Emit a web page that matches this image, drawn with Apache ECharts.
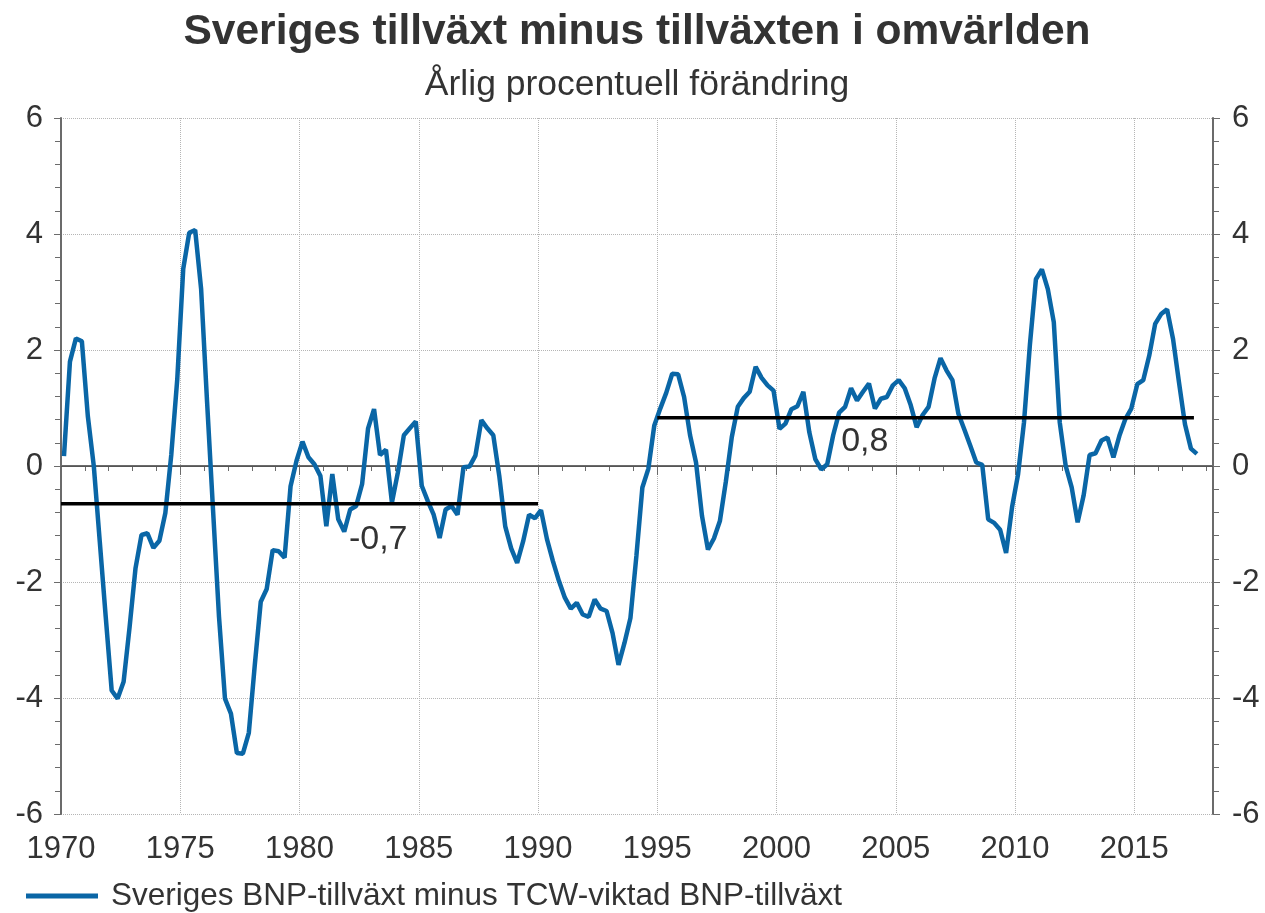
<!DOCTYPE html>
<html>
<head>
<meta charset="utf-8">
<title>Sveriges tillväxt minus tillväxten i omvärlden</title>
<script src="https://cdn.jsdelivr.net/npm/echarts@6/dist/echarts.min.js"></script>
<style>
html,body{margin:0;padding:0;background:#fff;}
#chart{width:1265px;height:913px;}
</style>
</head>
<body>
<div id="chart"></div>
<script>
// Kvartalsdata, årlig procentuell förändring: Sveriges BNP-tillväxt minus TCW-viktad BNP-tillväxt
var firstYear = 1970;
var d1970 = [0.17, 1.80, 2.20, 2.15, 0.86, 0.0, -1.3, -2.6, -3.87, -4.01,
             -3.72, -2.78, -1.76, -1.19, -1.16, -1.41, -1.29, -0.81, 0.2, 1.5,
             3.4, 4.02, 4.07, 3.05, 1.1, -0.76, -2.6, -4.01, -4.27, -4.95,
             -4.96, -4.6, -3.43, -2.34, -2.12, -1.45, -1.47, -1.58, -0.35, 0.09];
var d1980 = [0.42, 0.15, 0.03, -0.17, -1.04, -0.14, -0.92, -1.13, -0.75, -0.69,
             -0.31, 0.65, 0.98, 0.19, 0.28, -0.63, -0.11, 0.53, 0.65, 0.77,
             -0.34, -0.6, -0.84, -1.24, -0.75, -0.69, -0.84, -0.02, -0.01, 0.18,
             0.79, 0.65, 0.53, -0.17, -1.04, -1.42, -1.67, -1.3, -0.84, -0.9];
var d1990 = [-0.76, -1.26, -1.64, -1.98, -2.27, -2.46, -2.36, -2.56, -2.6, -2.3,
             -2.46, -2.5, -2.88, -3.43, -3.05, -2.62, -1.55, -0.37, -0.05, 0.7,
             0.99, 1.26, 1.59, 1.58, 1.19, 0.53, 0.06, -0.86, -1.44, -1.25,
             -0.95, -0.27, 0.5, 1.02, 1.17, 1.28, 1.71, 1.52, 1.39, 1.30];
var d2000 = [0.64, 0.73, 0.98, 1.03, 1.28, 0.58, 0.12, -0.06, 0.03, 0.53,
             0.92, 1.02, 1.34, 1.13, 1.28, 1.42, 0.99, 1.16, 1.19, 1.39,
             1.48, 1.34, 1.05, 0.67, 0.88, 1.02, 1.51, 1.86, 1.65, 1.48,
             0.9, 0.63, 0.35, 0.06, 0.02, -0.92, -0.98, -1.1, -1.5, -0.71];
var d2010 = [-0.15, 0.75, 2.10, 3.22, 3.39, 3.05, 2.48, 0.75, 0.0, -0.37,
             -0.97, -0.51, 0.19, 0.22, 0.44, 0.49, 0.15, 0.52, 0.81, 0.99,
             1.41, 1.48, 1.9, 2.45, 2.62, 2.70, 2.19, 1.44, 0.72, 0.30,
             0.21];

// genomsnitt per period
var meanFrom = [1970, 1995];
var meanTo = [1990, 2017.5];
var meanValue = [-0.65, 0.83];
var meanLabel = ['-0,7', '0,8'];
var meanLabelAt = [[1983.3, -1.27], [2003.7, 0.42]];

var seriesName = 'Sveriges BNP-tillväxt minus TCW-viktad BNP-tillväxt';
var values = d1970.concat(d1980, d1990, d2000, d2010);
var points = values.map(function (v, i) { return [firstYear + (i + 0.5) / 4, v]; });

var font = '"Liberation Sans", Arial, sans-serif';
var txt = '#333333';
var axisCol = '#6b6b6b';
var gridCol = '#b5b5b5';
var xMax = 2018.3;

var series = [{
    name: seriesName,
    type: 'line',
    data: points,
    symbol: 'none',
    z: 2,
    lineStyle: { color: '#0a66a6', width: 4.5 },
    itemStyle: { color: '#0a66a6' },
    markLine: {
        silent: true, symbol: 'none', z: 1,
        label: { show: false },
        lineStyle: { color: '#555', width: 1, type: 'solid' },
        data: [{ yAxis: 0 }]
    }
}];
for (var m = 0; m < meanValue.length; m++) {
    series.push({
        name: 'mean' + m,
        type: 'line',
        data: [[meanFrom[m], meanValue[m]], [meanTo[m], meanValue[m]]],
        symbol: 'none',
        silent: true,
        z: 3,
        lineStyle: { color: '#000', width: 3.5 },
        markPoint: {
            symbol: 'circle', symbolSize: 0, silent: true,
            label: { show: true, position: 'inside', fontSize: 34, color: txt, fontFamily: font, formatter: meanLabel[m] },
            data: [{ coord: meanLabelAt[m] }]
        }
    });
}

var chart = echarts.init(document.getElementById('chart'));
chart.setOption({
    backgroundColor: '#fff',
    animation: false,
    textStyle: { fontFamily: font },
    title: [{
        text: 'Sveriges tillväxt minus tillväxten i omvärlden',
        left: 632, textAlign: 'center', top: 6,
        textStyle: { fontSize: 42.5, fontWeight: 'bold', color: txt, fontFamily: font }
    }, {
        text: 'Årlig procentuell förändring',
        left: 632, textAlign: 'center', top: 62,
        textStyle: { fontSize: 35.5, fontWeight: 'normal', color: txt, fontFamily: font }
    }],
    grid: { left: 61, right: 52, top: 118, bottom: 99 },
    legend: {
        data: [seriesName],
        left: 21, top: 875,
        icon: 'rect', itemWidth: 72, itemHeight: 5,
        textStyle: { fontSize: 31.5, color: txt, fontFamily: font, padding: [0, 0, 0, 8] }
    },
    xAxis: [{
        type: 'value', min: 1970, max: xMax, interval: 1,
        axisLine: { lineStyle: { color: axisCol, width: 2 } },
        axisTick: { length: 5, lineStyle: { color: axisCol } },
        axisLabel: {
            fontSize: 31, color: txt, margin: 20,
            formatter: function (v) { return v % 5 === 0 ? String(v) : ''; }
        },
        splitLine: { show: false }
    }, {
        type: 'value', min: 1970, max: xMax, interval: 5, position: 'bottom',
        axisLine: { show: false }, axisLabel: { show: false },
        axisTick: { show: true, length: 9, lineStyle: { color: axisCol } },
        splitLine: { show: true, lineStyle: { type: 'dotted', color: gridCol } }
    }],
    yAxis: [{
        type: 'value', min: -6, max: 6, interval: 2, position: 'left',
        axisLine: { show: true, lineStyle: { color: axisCol, width: 2 } },
        axisTick: { show: true, length: 7, lineStyle: { color: axisCol } },
        minorTick: { show: true, splitNumber: 5, length: 6, lineStyle: { color: axisCol } },
        axisLabel: { fontSize: 31, color: txt, margin: 18 },
        splitLine: { show: true, lineStyle: { type: 'dotted', color: gridCol } }
    }, {
        type: 'value', min: -6, max: 6, interval: 2, position: 'right',
        axisLine: { show: true, lineStyle: { color: axisCol, width: 2 } },
        axisTick: { show: true, length: 7, lineStyle: { color: axisCol } },
        minorTick: { show: true, splitNumber: 5, length: 6, lineStyle: { color: axisCol } },
        axisLabel: { fontSize: 31, color: txt, margin: 19 },
        splitLine: { show: false }
    }],
    series: series
});
</script>
</body>
</html>
